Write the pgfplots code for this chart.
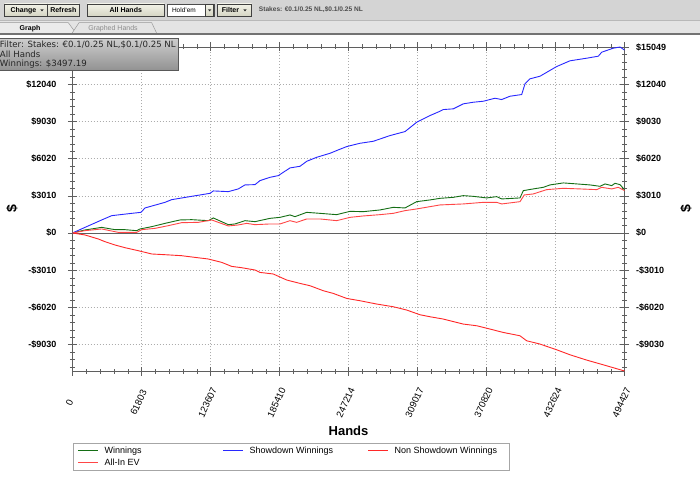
\documentclass[border=0pt]{standalone}
\usepackage{pgfplots}
\pgfplotsset{compat=1.18}
\usepackage{fontspec}
\setmainfont{Liberation Sans}
\newfontfamily\dejavu{DejaVu Sans}
\definecolor{wincol}{RGB}{20,110,20}
\definecolor{sdcol}{RGB}{40,40,255}
\definecolor{nsdcol}{RGB}{255,40,40}
\definecolor{evcol}{RGB}{255,70,70}
\definecolor{barbg}{RGB}{212,212,212}
\definecolor{tabrow}{RGB}{228,228,228}
\definecolor{btntop}{RGB}{242,242,232}
\definecolor{btnbot}{RGB}{212,212,194}
\definecolor{axcol}{RGB}{95,95,95}
\definecolor{ovtop}{RGB}{205,205,205}
\definecolor{ovbot}{RGB}{145,145,145}

\pgfplotstableread{
h v
0 0
11196 243
26154 454
38067 267
47024 267
57504 186
60460 324
70939 510
82852 778
96288 1053
106767 1077
121636 996
126115 1215
139550 672
145551 729
154508 996
163465 915
176901 1183
185858 1264
194815 1458
199293 1320
209773 1669
221686 1588
236644 1482
248557 1750
260470 1725
275428 1863
287341 2074
297820 2025
308300 2535
320213 2673
329170 2803
341083 2884
350040 3021
358997 2965
371001 2835
379956 2940
384434 2754
400829 2835
403782 3426
412739 3564
421696 3694
427697 3888
439610 4050
451612 3969
463525 3888
472482 3775
476960 3969
482961 3831
485917 4018
490396 3912
494427 3497.19
}\winnings

\pgfplotstableread{
h v
0 0
11196 454
26154 1053
35111 1401
53025 1588
61355 1669
64938 2025
82852 2479
88853 2697
106767 2965
123159 3208
126115 3402
139550 3345
148507 3564
154508 3888
163465 3912
167944 4236
176901 4504
184335 4641
194815 5265
203772 5395
209773 5800
218730 6124
230643 6448
238077 6723
245601 6990
257514 7258
269427 7420
284385 7881
297820 8205
308300 8959
320213 9501
329170 9850
332126 9987
341083 10044
350040 10449
358997 10579
367954 10660
378433 10903
384434 10797
391869 11065
402348 11202
405304 12069
409783 12474
418740 12685
433698 13470
445611 13932
460569 14143
470959 14305
474004 14629
484395 14953
490396 15049
494427 14800
}\showdown

\pgfplotstableread{
h v
0 0
11196 -162
23109 -486
29110 -705
38067 -972
47024 -1191
58937 -1434
70939 -1701
82852 -1758
97810 -1839
109723 -1976
121636 -2106
133638 -2381
142595 -2705
151552 -2811
163465 -2997
167944 -3191
179857 -3321
191859 -3807
203772 -4082
212729 -4269
224642 -4674
233599 -4892
245601 -5297
257514 -5484
272472 -5751
287341 -5970
299343 -6237
311256 -6618
320213 -6780
332126 -6966
350040 -7371
362042 -7509
373953 -7776
385868 -8051
400829 -8319
406827 -8724
418740 -8991
433698 -9453
445611 -9858
460569 -10287
478483 -10749
494427 -11168
}\nonshowdown

\pgfplotstableread{
h v
0 0
11196 186
26154 324
41023 49
57504 49
61982 267
73895 373
85808 591
97810 834
112679 859
124681 1053
139550 567
148507 648
156031 778
163465 672
176901 729
185858 729
194815 996
200816 859
209773 1134
221686 1134
236644 996
248557 1264
260470 1377
275428 1482
287341 1588
297820 1806
308300 1944
320213 2130
329170 2268
350040 2349
367954 2479
379956 2479
384434 2349
400829 2535
404677 3078
412739 3159
424741 3507
439610 3613
454568 3564
469528 3507
474004 3694
482961 3564
488873 3694
494427 3426
}\allinev

\begin{document}
\begin{tikzpicture}[x=1pt,y=1pt]
\path[use as bounding box, fill=white] (0,0) rectangle (700,480);

\begin{axis}[
  at={(72.5pt,109pt)}, anchor=south west,
  width=552pt, height=324pt, scale only axis,
  xmin=0, xmax=494427, ymin=-11170, ymax=15049,
  xtick={0,61803.375,123606.75,185410.125,247213.5,309016.875,370820.25,432623.625,494427},
  xticklabels={0,61803,123607,185410,247214,309017,370820,432624,494427},
  ytick={-9029.4,-6019.6,-3009.8,3009.8,6019.6,9029.4,12039.2,15049},
  yticklabels={-\$9030,-\$6020,-\$3010,\$3010,\$6020,\$9030,\$12040,{}},
  extra y ticks={0}, extra y tick labels={\$0},
  extra y tick style={grid=major, major grid style={solid, draw=axcol, line width=0.8pt}},
  minor x tick num=4,
  minor ytick={-10835.28,-10233.32,...,15049},
  grid=major,
  major grid style={draw=gray!65, dash pattern=on 1pt off 2pt},
  axis line style={draw=axcol},
  tick style={draw=axcol},
  major tick length=9pt, minor tick length=5pt, tick align=center,
  yticklabel style={font=\bfseries\fontsize{9}{10}\selectfont, xshift=-8pt},
  xticklabel style={font=\fontsize{9.5}{10}\selectfont, yshift=-27pt, xshift=-3pt, rotate=65, anchor=center},
  scaled ticks=false,
  xlabel={Hands},
  every axis x label/.style={at={(axis description cs:0.5,0)}, anchor=center, yshift=-60pt, font=\bfseries\fontsize{13}{14}\selectfont},
  ylabel={\$},
  every axis y label/.style={at={(axis description cs:0,0.5)}, anchor=center, xshift=-60.5pt, rotate=90, font=\bfseries\fontsize{14}{15}\selectfont},
  legend columns=3,
  legend cell align=left,
  legend image code/.code={\draw[line width=1pt, #1] (0pt,0pt) -- (20pt,0pt);},
  legend style={at={(0,-0.2222)}, anchor=north west, draw=gray!70,
    inner xsep=5pt, inner ysep=1.5pt, column sep=5pt,
    font=\fontsize{9}{10}\selectfont,
    nodes={inner xsep=1pt, inner ysep=2pt}},
]
\addplot[draw=wincol, line width=0.9pt] table[x=h, y=v] {\winnings};
\addlegendentry{\makebox[112pt][l]{Winnings}}
\addplot[draw=sdcol, line width=0.9pt] table[x=h, y=v] {\showdown};
\addlegendentry{\makebox[112pt][l]{Showdown Winnings}}
\addplot[draw=nsdcol, line width=0.9pt] table[x=h, y=v] {\nonshowdown};
\addlegendentry{\makebox[108pt][l]{Non Showdown Winnings}}
\addplot[draw=evcol, line width=0.9pt] table[x=h, y=v] {\allinev};
\addlegendentry{\makebox[112pt][l]{All-In EV}}
\end{axis}

\begin{axis}[
  at={(72.5pt,109pt)}, anchor=south west,
  width=552pt, height=324pt, scale only axis,
  xmin=0, xmax=494427, ymin=-11170, ymax=15049,
  hide x axis, axis y line*=right, axis line style={draw=none},
  scaled ticks=false,
  ytick={-9029.4,-6019.6,-3009.8,0,3009.8,6019.6,9029.4,12039.2,15049},
  yticklabels={-\$9030,-\$6020,-\$3010,\$0,\$3010,\$6020,\$9030,\$12040,\$15049},
  ytick style={draw=none}, major tick length=0pt,
  yticklabel style={font=\bfseries\fontsize{9}{10}\selectfont, anchor=west, xshift=8pt},
]
\end{axis}

\node[rotate=90, font=\bfseries\fontsize{14}{15}\selectfont] at (686,271) {\$};

% toolbar
\fill[barbg] (0,459) rectangle (700,480);
\fill[tabrow] (0,446) rectangle (700,459);
\draw[gray!55] (0,459.5) -- (700,459.5);
\tikzset{btn/.style={draw=gray!50!black, top color=btntop, bottom color=btnbot, line width=0.5pt}}
\path[btn] (4.7,463.3) rectangle (47.3,476);
\node[font=\bfseries\fontsize{7}{8}\selectfont] at (23.5,469.6) {Change};
\fill[black!80] (40.3,470.6) -- (43.7,470.6) -- (42,468.6) -- cycle;
\path[btn] (47.7,463.3) rectangle (79,476);
\node[font=\bfseries\fontsize{7}{8}\selectfont] at (63.3,469.6) {Refresh};
\path[btn] (87.3,463.3) rectangle (164.3,476);
\node[font=\bfseries\fontsize{7}{8}\selectfont] at (125.8,469.6) {All Hands};
\draw[gray!60!black, fill=white, line width=0.5pt] (167.7,463.3) rectangle (214.3,476);
\node[anchor=west, font=\fontsize{6.5}{7}\selectfont] at (168.5,469.6) {Hold'em};
\path[btn] (205.7,464) rectangle (213.6,475.3);
\fill[black!80] (208,470.6) -- (211.3,470.6) -- (209.65,468.6) -- cycle;
\path[btn] (217.3,463.3) rectangle (251.7,476);
\node[font=\bfseries\fontsize{7}{8}\selectfont] at (230.5,469.6) {Filter};
\fill[black!80] (243.3,470.6) -- (246.7,470.6) -- (245,468.6) -- cycle;
\node[anchor=west, inner sep=0pt, text=black!70, font=\bfseries\fontsize{6.6}{7}\selectfont] at (258.7,470.7) {Stakes: €0.1/0.25 NL,\$0.1/0.25 NL};
% tabs
\filldraw[fill=white!92!black, draw=gray!80, line width=0.5pt] (-1,446.7) -- (-1,457.3) -- (68.3,457.3) -- (76,446.7);
\node[font=\bfseries\fontsize{7}{8}\selectfont] at (30,451.8) {Graph};
\filldraw[fill=tabrow, draw=gray!80, line width=0.5pt] (72,446.7) -- (79,457.3) -- (151.7,457.3) -- (156.7,446.7);
\node[text=gray!90, font=\fontsize{7}{8}\selectfont] at (113,451.8) {Graphed Hands};
\fill[black!55] (0,445) rectangle (700,447.3);

% overlay info box
\shade[top color=ovtop, bottom color=ovbot, draw=black!65, line width=0.6pt] (-1,409.3) rectangle (178,441.5);
\node[anchor=base west, inner sep=0pt, text=black!85, font=\dejavu\fontsize{8.6}{9}\selectfont] at (-0.3,432) {Filter: Stakes: €0.1/0.25 NL,\$0.1/0.25 NL};
\node[anchor=base west, inner sep=0pt, text=black!85, font=\dejavu\fontsize{8.6}{9}\selectfont] at (-0.3,422.5) {All Hands};
\node[anchor=base west, inner sep=0pt, text=black!85, font=\dejavu\fontsize{8.6}{9}\selectfont] at (-0.3,413) {Winnings: \$3497.19};
\end{tikzpicture}
\end{document}
